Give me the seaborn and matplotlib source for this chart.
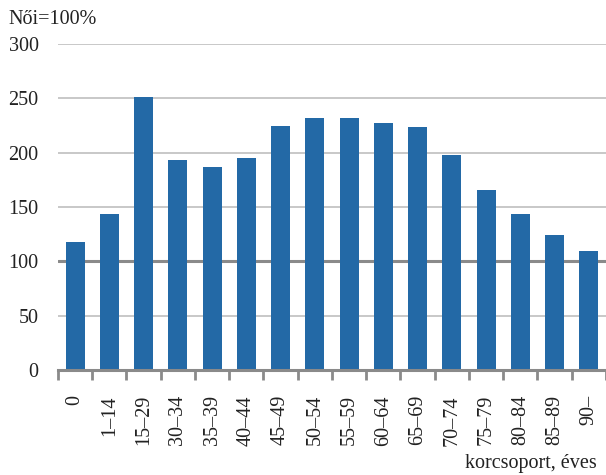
import numpy as np
import pandas as pd
import matplotlib
matplotlib.use("Agg")
import matplotlib.pyplot as plt
import seaborn as sns

# --- data ---
age_groups = ["0", "1–14", "15–29", "30–34", "35–39", "40–44", "45–49", "50–54",
              "55–59", "60–64", "65–69", "70–74", "75–79", "80–84", "85–89", "90–"]
ratio = [118, 144, 251, 193, 187, 195, 225, 232, 232, 227, 224, 198, 166, 144, 124, 110]
y_ticks = [0, 50, 100, 150, 200, 250, 300]

df = pd.DataFrame({"age": age_groups, "ratio": ratio})

sns.set_style("white")
plt.rcParams["font.family"] = ["Liberation Serif", "DejaVu Serif"]

fig = plt.figure(figsize=(6.06, 4.75), dpi=100)
ax = fig.add_axes([0.0957, 0.221, 0.9043, 0.686])

# gridlines, the 100 line is stronger
for t in y_ticks[1:]:
    if t == 100:
        ax.axhline(t, color="#8a8a8a", lw=2.2, zorder=0)
    else:
        ax.axhline(t, color="#c4c4c4", lw=1.3, zorder=0)

sns.barplot(data=df, x="age", y="ratio", color="#2369a6", width=0.56,
            saturation=1, linewidth=0, ax=ax, zorder=2)

ax.set_ylim(0, 300)
ax.set_xlim(-0.5, len(age_groups) - 0.5)
ax.set_yticks(y_ticks)
ax.set_yticklabels([str(t) for t in y_ticks], fontsize=14.5, color="#222222")
ax.set_xticks(range(len(age_groups)))
ax.set_xticklabels(age_groups, rotation=90, fontsize=14.5, color="#222222")
ax.set_xticks(np.arange(-0.5, len(age_groups)), minor=True)
ax.tick_params(axis="x", which="both", bottom=True)
ax.tick_params(axis="x", which="major", length=0, pad=18)
ax.tick_params(axis="x", which="minor", length=7, width=2, color="#8a8a8a", direction="out")
ax.tick_params(axis="y", length=0, pad=14)

for s in ["top", "right", "left"]:
    ax.spines[s].set_visible(False)
ax.spines["bottom"].set_color("#8a8a8a")
ax.spines["bottom"].set_linewidth(2.2)

ax.set_xlabel("")
ax.set_ylabel("")
fig.text(0.014, 0.96, "Női=100%", fontsize=14.5, color="#222222", ha="left", va="center")
fig.text(0.985, 0.025, "korcsoport, éves", fontsize=14.5, color="#222222", ha="right", va="center")

fig.savefig("out.png", dpi=100)
